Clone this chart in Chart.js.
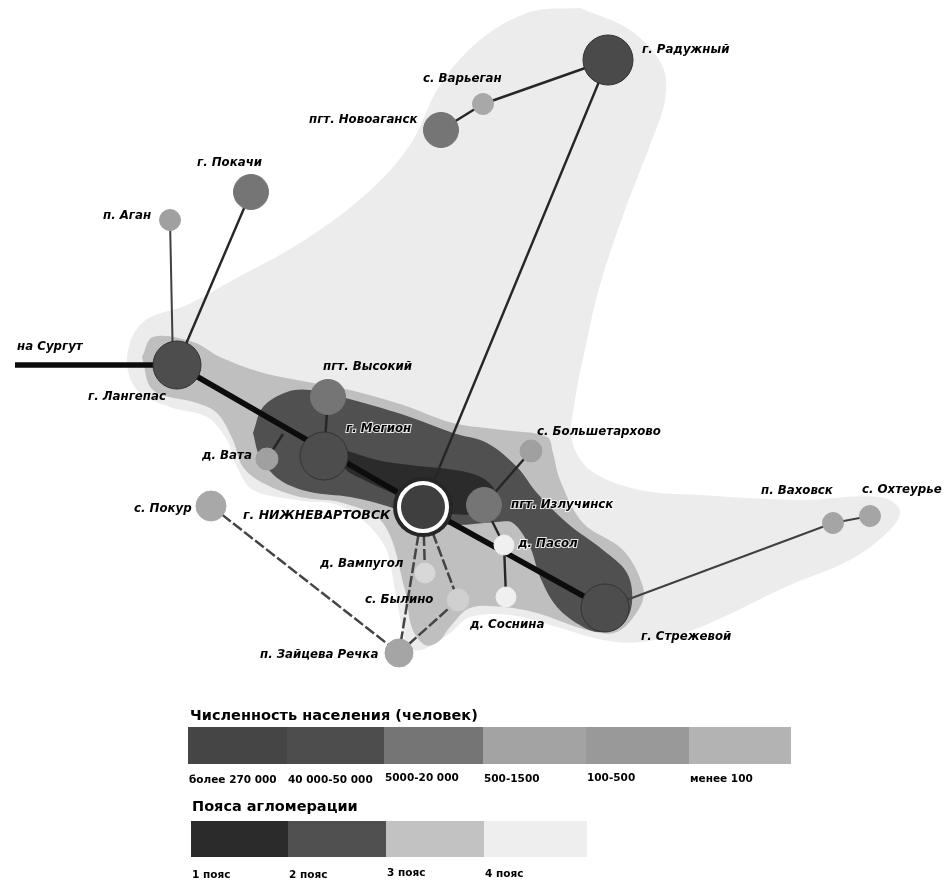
<!DOCTYPE html>
<html>
<head>
<meta charset="utf-8">
<style>
html,body{margin:0;padding:0;background:#fff}
#wrap{width:949px;height:881px}
canvas{filter:blur(.6px)}
</style>
<script src="https://cdn.jsdelivr.net/npm/chart.js@4"></script>
</head>
<body>
<div id="wrap"><canvas id="map"></canvas></div>
<script>
// settlements: [name, x, y, r, colour]
const towns = [
  ["Радужный",608,60,25,"#4a4a4a"],
  ["Варьеган",483,104,10.5,"#a8a8a8"],
  ["Новоаганск",441,130,17.5,"#757575"],
  ["Покачи",251,192,17.5,"#757575"],
  ["Аган",170,220,10.5,"#a0a0a0"],
  ["Лангепас",177,365,24,"#4d4d4d"],
  ["Высокий",328,397,17.5,"#757575"],
  ["Мегион",324,456,24,"#4d4d4d"],
  ["Вата",267,459,11,"#a0a0a0"],
  ["Покур",211,506,15,"#a8a8a8"],
  ["Излучинск",484,505,17.5,"#757575"],
  ["Большетархово",531,451,11,"#a0a0a0"],
  ["Пасол",504,545,10,"#f0f0f0"],
  ["Вампугол",425,573,10,"#d8d8d8"],
  ["Былино",458,600,11,"#d0d0d0"],
  ["Соснина",506,597,10,"#f0f0f0"],
  ["Зайцева",399,653,14,"#a5a5a5"],
  ["Стрежевой",605,608,24,"#4d4d4d"],
  ["Ваховск",833,523,10.5,"#a5a5a5"],
  ["Охтеурье",870,516,10.5,"#a5a5a5"]
];
const capital = {x:423, y:507};

// agglomeration belts, outlines
const belt4 = [[580,8],[630,30],[662,65],[665,100],[650,145],[625,210],[600,285],[587,340],[575,400],[572,440],[590,470],[640,490],[700,495],[800,500],[880,497],[900,510],[890,530],[850,560],[790,585],[693,630],[640,642],[603,640],[557,627],[510,615],[470,617],[450,633],[427,648],[413,650],[405,640],[395,590],[383,543],[343,507],[297,500],[253,490],[237,467],[227,440],[207,417],[170,407],[137,390],[127,357],[143,322],[187,305],[233,280],[300,243],[365,195],[410,145],[440,85],[480,40],[530,12],[580,8]];
const belt3 = [[142,357],[153,337],[193,342],[220,357],[260,372],[297,380],[350,390],[403,405],[453,423],[503,430],[547,437],[553,453],[560,480],[583,523],[623,550],[643,587],[640,607],[617,632],[587,630],[537,613],[503,607],[470,608],[450,627],[438,642],[425,645],[412,628],[405,590],[383,523],[343,503],[300,497],[263,483],[243,467],[233,440],[217,413],[197,403],[153,390],[142,357]];
const belt2 = [[253,433],[263,407],[287,392],[310,390],[353,400],[410,417],[453,433],[487,443],[517,467],[537,493],[567,523],[603,550],[627,573],[632,603],[622,625],[600,632],[583,627],[557,607],[540,577],[530,547],[513,523],[497,522],[453,525],[420,520],[390,507],[350,497],[310,492],[280,480],[260,457],[253,433]];
const belt1 = [[345,450],[377,460],[410,465],[470,473],[493,487],[497,512],[470,515],[430,510],[390,492],[360,478],[345,468],[345,450]];

const thickLinks = [[[15,365],[177,365]],[[177,365],[423,507]],[[423,507],[605,608]]];
const thinLinks = [
  [[251,192],[177,365]],[[608,60],[423,507]],[[483,104],[608,60]],
  [[441,130],[483,104]],[[328,397],[324,456]],[[267,459],[283,434]],[[484,505],[531,451]],
  [[484,505],[504,545]],[[504,545],[506,597]]
];
const faintLinks = [[[170,220],[173,365]],[[605,608],[833,523]],[[833,523],[870,516]]];
const dashLinks = [
  [[211,506],[399,653]],[[423,507],[399,653]],[[423,507],[425,573]],[[423,507],[458,600]],[[458,600],[399,653]]
];

// map labels: [text, x, y, halo]
const labels = [
  ["г. Радужный",642,50],["с. Варьеган",423,79],["пгт. Новоаганск",309,120],["г. Покачи",197,163],
  ["п. Аган",103,216],["на Сургут",17,347],["г. Лангепас",88,397],["пгт. Высокий",323,367],
  ["г. Мегион",346,429,true],["с. Большетархово",537,432],["д. Вата",202,456],["с. Покур",134,509],
  ["пгт. Излучинск",511,505,true],["д. Пасол",518,544,true],["д. Вампугол",320,564],["с. Былино",365,600],
  ["д. Соснина",470,625],["п. Зайцева Речка",260,655],["г. Стрежевой",641,637],["п. Ваховск",761,491],["с. Охтеурье",862,490]
];

// legends
const popEdges = [188,287,384,483,586,689,791];
const popColors = ["#454545","#4d4d4d","#757575","#a3a3a3","#999999","#b3b3b3"];
const popLabels = ["более 270 000","40 000-50 000","5000-20 000","500-1500","100-500","менее 100"];
const popBand = [727,764];
const beltEdges = [191,288,386,484,587];
const beltColors = ["#2b2b2b","#505050","#c2c2c2","#eeeeee"];
const beltLabels = ["1 пояс","2 пояс","3 пояс","4 пояс"];
const beltBand = [821,857];

const pts = list => list.map(p => ({x:p[0], y:p[1]}));
const shape = (list,color,order,tension=0.35) => ({
  type:"scatter", data:pts(list), showLine:true, fill:"shape", backgroundColor:color,
  borderWidth:0, pointRadius:0, tension, order
});
const link = (pair,color,width,dash=[]) => ({
  type:"scatter", data:pts(pair), showLine:true, fill:false, borderColor:color, borderWidth:width,
  borderDash:dash, pointRadius:0, order:5
});
const swatch = (x0,x1,band,color) => shape([[x0,band[0]],[x1,band[0]],[x1,band[1]],[x0,band[1]],[x0,band[0]]],color,3,0);

const datasets = [
  // the capital: white ring on a dark disc
  {type:"bubble", data:[{x:capital.x,y:capital.y,r:24}], backgroundColor:"#3f3f3f", borderColor:"#ffffff", borderWidth:4, order:1},
  {type:"bubble", data:[{x:capital.x,y:capital.y,r:30}], backgroundColor:"#262626", borderWidth:0, order:2},
  {type:"bubble", data:towns.map(t => ({x:t[1],y:t[2],r:t[3]})), backgroundColor:towns.map(t => t[4]),
    borderColor:towns.map(t => t[3] > 20 ? "#333333" : t[4]), borderWidth:1, order:3},
  ...thickLinks.map(l => link(l,"#0c0c0c",5.5)),
  ...thinLinks.map(l => link(l,"#262626",2.4)),
  ...faintLinks.map(l => link(l,"#404040",2)),
  ...dashLinks.map(l => link(l,"#444444",2.5,[11,3])),
  shape(belt1,"#2b2b2b",6),
  shape(belt2,"#505050",7),
  shape(belt3,"#bfbfbf",8),
  shape(belt4,"#ececec",9),
  ...popColors.map((c,i) => swatch(popEdges[i],popEdges[i+1],popBand,c)),
  ...beltColors.map((c,i) => swatch(beltEdges[i],beltEdges[i+1],beltBand,c))
];

const textPlugin = {
  id:"maptext",
  afterDatasetsDraw(chart){
    const {ctx, scales:{x,y}} = chart;
    const put = (text,px,py,font,halo) => {
      ctx.font = font;
      ctx.textBaseline = "middle";
      ctx.textAlign = "left";
      const a = x.getPixelForValue(px), b = y.getPixelForValue(py);
      if (halo) {
        ctx.strokeStyle = "rgba(255,255,255,.85)";
        ctx.lineWidth = 2;
        ctx.strokeText(text,a,b);
      }
      ctx.fillStyle = "#000000";
      ctx.fillText(text,a,b);
    };
    ctx.save();
    const mapFont = 'italic bold 11.8px "DejaVu Sans"';
    labels.forEach(l => put(l[0],l[1],l[2],mapFont,l[3]));
    put("г. НИЖНЕВАРТОВСК",243,516,'italic bold 12.5px "DejaVu Sans"');
    put("Численность населения (человек)",190,716,'bold 14.5px "DejaVu Sans"');
    put("Пояса агломерации",192,807,'bold 14.5px "DejaVu Sans"');
    const small = 'bold 10.5px "DejaVu Sans"';
    const popY = [780,780,778,779,778,779];
    popLabels.forEach((t,i) => put(t,popEdges[i]+1,popY[i],small));
    const beltY = [875,875,873,874];
    beltLabels.forEach((t,i) => put(t,beltEdges[i]+1,beltY[i],small));
    ctx.restore();
  }
};

new Chart(document.getElementById("map"),{
  type:"bubble",
  data:{datasets},
  options:{
    responsive:true,
    maintainAspectRatio:false,
    animation:false,
    layout:{padding:0,autoPadding:false},
    plugins:{legend:{display:false},tooltip:{enabled:false},title:{display:false}},
    scales:{
      x:{type:"linear",min:0,max:949,display:false},
      y:{type:"linear",min:0,max:881,reverse:true,display:false}
    }
  },
  plugins:[textPlugin]
});
</script>
</body>
</html>
